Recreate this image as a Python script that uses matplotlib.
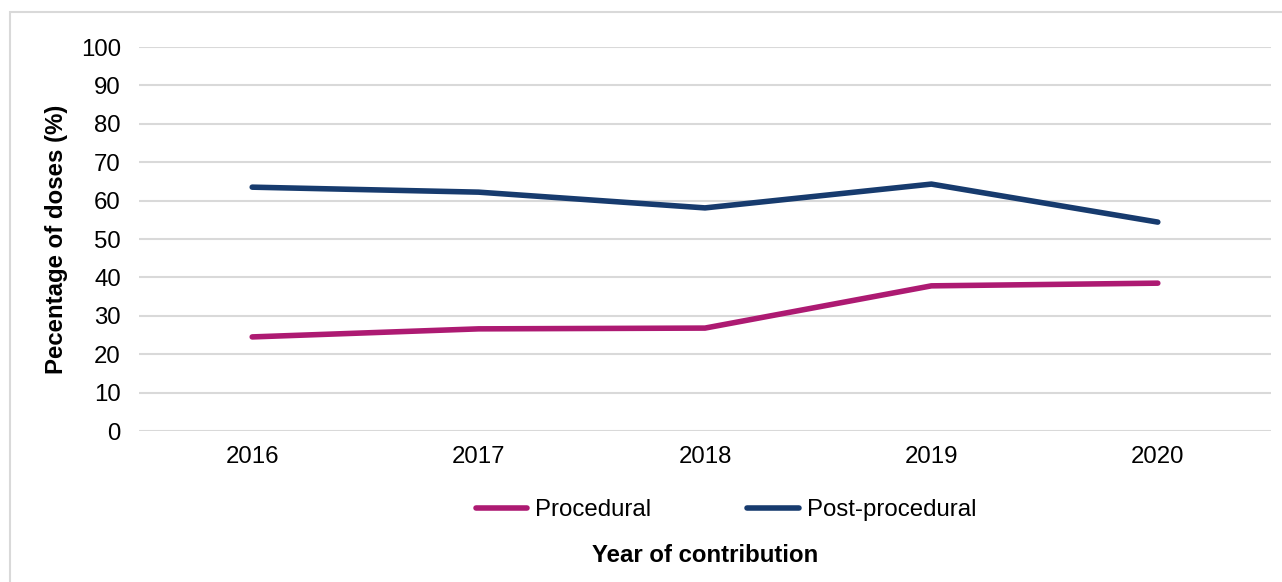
import matplotlib
matplotlib.use("Agg")
import matplotlib.pyplot as plt
from matplotlib.patches import Rectangle

years = ["2016", "2017", "2018", "2019", "2020"]
procedural = [24.5, 26.6, 26.8, 37.8, 38.5]
post_procedural = [63.5, 62.2, 58.1, 64.3, 54.4]
y_ticks = [0, 10, 20, 30, 40, 50, 60, 70, 80, 90, 100]

plt.rcParams["font.family"] = ["Liberation Sans", "DejaVu Sans"]

fig = plt.figure(figsize=(12.82, 5.82), dpi=100)
W, H = 1282, 582
ax = fig.add_axes([139 / W, 1 - 431 / H, (1271 - 139) / W, (431 - 47) / H])

# outer chart border
fig.patches.append(Rectangle((10 / W, -0.05), 1.2, 1 - 12 / H + 0.05,
                             transform=fig.transFigure, fill=False,
                             edgecolor="#D9D9D9", linewidth=1.5))

x = list(range(len(years)))
ax.plot(x, procedural, color="#AD1A72", linewidth=4.0, solid_capstyle="round",
        label="Procedural")
ax.plot(x, post_procedural, color="#173B6E", linewidth=4.0, solid_capstyle="round",
        label="Post-procedural")

ax.set_xlim(-0.5, len(years) - 0.5)
ax.set_ylim(0, 100)
ax.set_yticks(y_ticks)
ax.set_xticks(x)
ax.set_xticklabels(years)
ax.tick_params(axis="both", length=0, labelsize=17.3, labelcolor="#000000")
ax.tick_params(axis="y", pad=13)
ax.tick_params(axis="x", pad=11)
ax.grid(True, axis="y", color="#D9D9D9", linewidth=1.5)
ax.set_axisbelow(True)
for s in ax.spines.values():
    s.set_visible(False)

ax.set_ylabel("Pecentage of doses (%)", fontsize=17.3, fontweight="bold")
ax.yaxis.set_label_coords((68 - 139) / (1271 - 139), 0.5)
fig.text(705 / W, 1 - 556 / H, "Year of contribution", fontsize=17.3,
         fontweight="bold", ha="center", va="center")

fig.legend(loc="center", bbox_to_anchor=(726 / W, 1 - 510 / H), ncol=2,
           frameon=False, fontsize=17.3, handlelength=2.15, handletextpad=0.33,
           columnspacing=4.0)

fig.savefig("out.png", dpi=100)
